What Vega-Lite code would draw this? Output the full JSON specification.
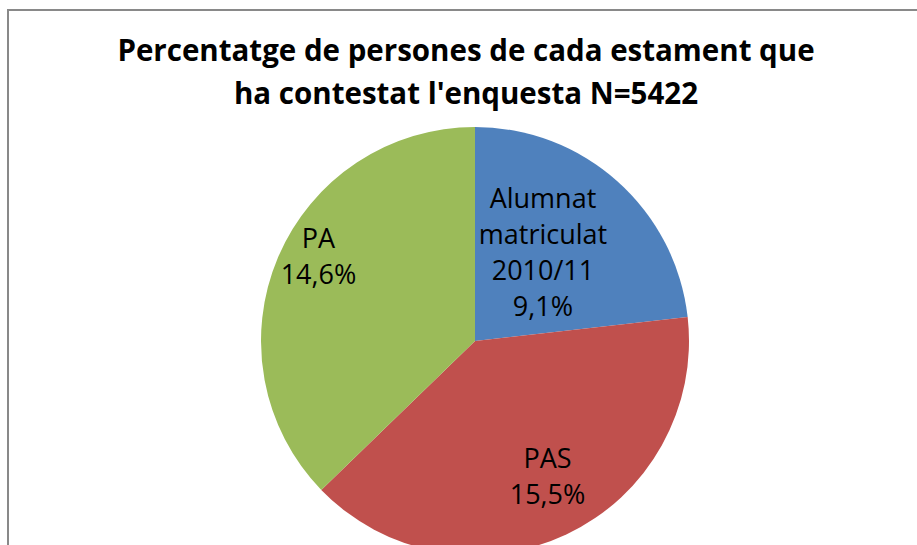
{
  "$schema": "https://vega.github.io/schema/vega-lite/v6.json",
  "autosize": "none",
  "padding": {"left": 8, "top": 10, "right": 0, "bottom": 0},
  "width": 934,
  "height": 662,
  "background": "white",
  "view": {"stroke": "#898989", "strokeWidth": 2, "fill": "white"},
  "title": {
    "text": ["Percentatge de persones de cada estament que", "ha contestat l'enquesta N=5422"],
    "font": "Open Sans",
    "fontSize": 29.5,
    "fontWeight": "bold",
    "color": "#000000",
    "anchor": "middle",
    "frame": "group",
    "dx": -9,
    "offset": -100,
    "lineHeight": 43
  },
  "data": {
    "values": [
      {"estament": "Alumnat matriculat 2010/11", "nom": "Alumnat|matriculat|2010/11", "pct": 9.1, "ordre": 1},
      {"estament": "PAS", "nom": "PAS", "pct": 15.5, "ordre": 2},
      {"estament": "PA", "nom": "PA", "pct": 14.6, "ordre": 3}
    ]
  },
  "transform": [
    {"calculate": "datum.nom + '|' + replace(format(datum.pct, '.1f'), '.', ',') + '%'", "as": "etiqueta"}
  ],
  "encoding": {
    "theta": {"field": "pct", "type": "quantitative", "stack": true},
    "order": {"field": "ordre", "type": "quantitative"}
  },
  "layer": [
    {
      "mark": {"type": "arc", "outerRadius": 214, "stroke": null},
      "encoding": {
        "color": {
          "field": "estament",
          "type": "nominal",
          "scale": {
            "domain": ["Alumnat matriculat 2010/11", "PAS", "PA"],
            "range": ["#4F81BD", "#C0504D", "#9BBB59"]
          },
          "legend": null
        }
      }
    },
    {
      "mark": {
        "type": "text",
        "radius": 102,
        "dy": -65,
        "font": "Open Sans",
        "fontSize": 27,
        "lineBreak": "|",
        "lineHeight": 36,
        "align": "center",
        "baseline": "middle",
        "color": "#000000"
      },
      "encoding": {
        "text": {"condition": {"test": "datum.ordre == 1", "field": "etiqueta"}, "value": ""}
      }
    },
    {
      "mark": {
        "type": "text",
        "radius": 170,
        "dy": -35,
        "font": "Open Sans",
        "fontSize": 27,
        "lineBreak": "|",
        "lineHeight": 36,
        "align": "center",
        "baseline": "middle",
        "color": "#000000"
      },
      "encoding": {
        "text": {"condition": {"test": "datum.ordre != 1", "field": "etiqueta"}, "value": ""}
      }
    }
  ]
}
